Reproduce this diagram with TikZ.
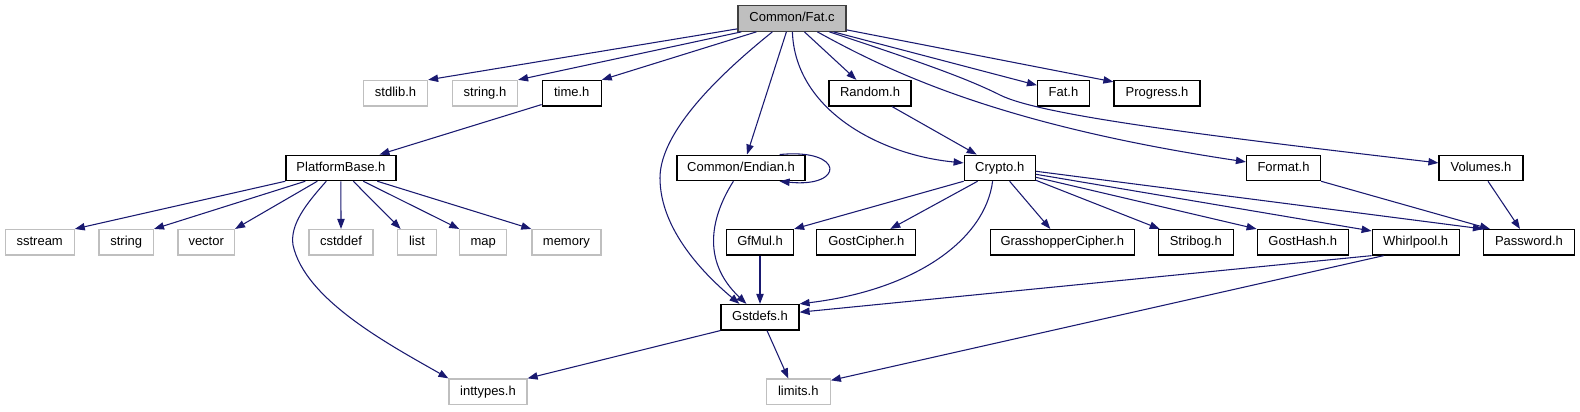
\documentclass[tikz,border=0pt]{standalone}
\usepackage{fontspec}
\setmainfont{Liberation Sans}
\usetikzlibrary{arrows.meta,calc}
\definecolor{edgec}{HTML}{191970}
\definecolor{grayb}{HTML}{BFBFBF}
\definecolor{rootfill}{HTML}{BFBFBF}
\begin{document}
\begin{tikzpicture}[x=0.75pt,y=-0.75pt,
  w/.style={minimum width=#1*0.75pt},
  base/.style={rectangle, inner sep=0pt, minimum height=25.5*0.75pt, fill=white,
    font=\fontsize{9.75pt}{11pt}\selectfont, text height=7pt, text depth=2pt},
  box/.style={base, draw=black, line width=0.9pt},
  sysbox/.style={base, draw=grayb, line width=0.9pt},
  rootbox/.style={base, draw=black!75, line width=0.9pt, fill=rootfill},
  edge/.style={draw=edgec, line width=0.8pt, -{Triangle[length=7.5pt,width=5.5pt]}}]
\useasboundingbox (0,0) rectangle (1580,411);
% row 0
\node[rootbox, w=108] (fat) at (792,18.5) {Common/Fat.c};
% row 1
\node[sysbox, w=64] (stdlib) at (395.5,93.2) {stdlib.h};
\node[sysbox, w=65] (stringh) at (485,93.2) {string.h};
\node[box, w=59] (time) at (571.7,93.2) {time.h};
\node[box, w=82] (random) at (870,93.2) {Random.h};
\node[box, w=52] (fath) at (1063.5,93.2) {Fat.h};
\node[box, w=86] (progress) at (1157,93.2) {Progress.h};
% row 2
\node[box, w=110] (platform) at (340.9,167.9) {PlatformBase.h};
\node[box, w=128] (endian) at (741,167.9) {Common/Endian.h};
\node[box, w=71] (crypto) at (999.7,167.9) {Crypto.h};
\node[box, w=74] (format) at (1283.5,167.9) {Format.h};
\node[box, w=84] (volumes) at (1481,167.9) {Volumes.h};
% row 3
\node[sysbox, w=69] (sstream) at (39.7,242.3) {sstream};
\node[sysbox, w=54.5] (string) at (126.2,242.3) {string};
\node[sysbox, w=56.5] (vector) at (206.2,242.3) {vector};
\node[sysbox, w=64] (cstddef) at (341,242.3) {cstddef};
\node[sysbox, w=39.5] (list) at (417,242.3) {list};
\node[sysbox, w=46.7] (map) at (483.2,242.3) {map};
\node[sysbox, w=69] (memory) at (566.4,242.3) {memory};
\node[box, w=67] (gfmul) at (760,242.3) {GfMul.h};
\node[box, w=99] (gostcipher) at (866.3,242.3) {GostCipher.h};
\node[box, w=144] (grasshopper) at (1062.3,242.3) {GrasshopperCipher.h};
\node[box, w=75] (stribog) at (1195.8,242.3) {Stribog.h};
\node[box, w=91] (gosthash) at (1302.7,242.3) {GostHash.h};
\node[box, w=87] (whirlpool) at (1415.7,242.3) {Whirlpool.h};
\node[box, w=91] (password) at (1529,242.3) {Password.h};
% row 4
\node[box, w=78] (gstdefs) at (760,317.2) {Gstdefs.h};
% row 5
\node[sysbox, w=78] (inttypes) at (488,391.7) {inttypes.h};
\node[sysbox, w=64] (limits) at (798.3,391.7) {limits.h};

% edges from Common/Fat.c
\draw[edge] ($(fat.south west)+(0,-3)$) -- (stdlib.north east);
\draw[edge] ($(fat.south west)+(4,0)$) -- (stringh.north east);
\draw[edge] ($(fat.south west)+(19,0)$) -- (time.north east);
\draw[edge] ($(fat.south west)+(35,0)$) .. controls (700,90) and (660,140) .. (660,178)
   .. controls (660,230) and (705,275) .. ($(gstdefs.north west)+(19,0)$);
\draw[edge] ($(fat.south west)+(49,0)$) -- ($(endian.north)+(6,0)$);
\draw[edge] ($(fat.south west)+(55,0)$) .. controls (795,110) and (880,155) .. ($(crypto.west)+(0,-5)$);
\draw[edge] ($(fat.south west)+(67,0)$) -- ($(random.north west)+(28,0)$);
\draw[edge] ($(fat.south west)+(80,0)$) .. controls (890,72) and (1000,125) .. ($(format.west)+(0,-6)$);
\draw[edge] ($(fat.south west)+(92,0)$) .. controls (930,65) and (970,80) .. (1000,95)
   .. controls (1040,115) and (1200,135) .. ($(volumes.west)+(0,-5)$);
\draw[edge] ($(fat.south west)+(96,0)$) -- ($(fath.west)+(0,-8)$);
\draw[edge] ($(fat.south east)+(0,-2)$) -- ($(progress.north west)+(0,2)$);
% time.h
\draw[edge] ($(time.south west)+(0,-2)$) -- ($(platform.north east)+(-17,0)$);
% PlatformBase.h
\draw[edge] (platform.south west) -- (sstream.north east);
\draw[edge] ($(platform.south west)+(20,0)$) -- (string.north east);
\draw[edge] ($(platform.south west)+(32,0)$) -- (vector.north east);
\draw[edge] ($(platform.south west)+(41,0)$) .. controls (305,205) and (290,225) .. (293,245)
   .. controls (305,300) and (390,345) .. (inttypes.north west);
\draw[edge] (platform.south) -- (cstddef.north);
\draw[edge] ($(platform.south west)+(68,0)$) -- ($(list.north west)+(4,0)$);
\draw[edge] ($(platform.south west)+(78,0)$) -- (map.north west);
\draw[edge] ($(platform.south west)+(92,0)$) -- (memory.north west);
% Common/Endian.h
\draw[edge] ($(endian.north east)+(-26,0)$) .. controls (845,148) and (845,188) .. ($(endian.south east)+(-26,0)$);
\draw[edge] ($(endian.south west)+(57,0)$) .. controls (712,215) and (700,260) .. ($(gstdefs.north west)+(26,0)$);
% Random.h
\draw[edge] ($(random.south)+(22,0)$) -- ($(crypto.north)+(-23,0)$);
% Crypto.h
\draw[edge] (crypto.south west) -- (gfmul.north east);
\draw[edge] ($(crypto.south west)+(14,0)$) -- ($(gostcipher.north)+(24,0)$);
\draw[edge] ($(crypto.south west)+(29,0)$) .. controls (985,240) and (915,290) .. (gstdefs.north east);
\draw[edge] ($(crypto.south west)+(46,0)$) -- ($(grasshopper.north)+(-12,0)$);
\draw[edge] ($(crypto.south east)+(0,-1)$) -- ($(stribog.north west)+(2,0)$);
\draw[edge] ($(crypto.south east)+(0,-4)$) -- (gosthash.north west);
\draw[edge] ($(crypto.south east)+(0,-7)$) -- ($(whirlpool.north west)+(0,2)$);
\draw[edge] ($(crypto.south east)+(0,-10)$) -- (password.north west);
% Format.h, Volumes.h
\draw[edge] (format.south east) -- ($(password.north west)+(7,0)$);
\draw[edge] ($(volumes.south)+(7,0)$) -- ($(password.north)+(-9,0)$);
% GfMul.h, Whirlpool.h
\draw[edge] (gfmul.south) -- (gstdefs.north);
\draw[edge] (whirlpool.south west) -- ($(gstdefs.east)+(0,-5)$);
\draw[edge] ($(whirlpool.south west)+(12,0)$) -- ($(limits.north east)+(0,2)$);
% Gstdefs.h
\draw[edge] (gstdefs.south west) -- (inttypes.north east);
\draw[edge] ($(gstdefs.south)+(7,0)$) -- ($(limits.north)+(-10,0)$);
\end{tikzpicture}
\end{document}
